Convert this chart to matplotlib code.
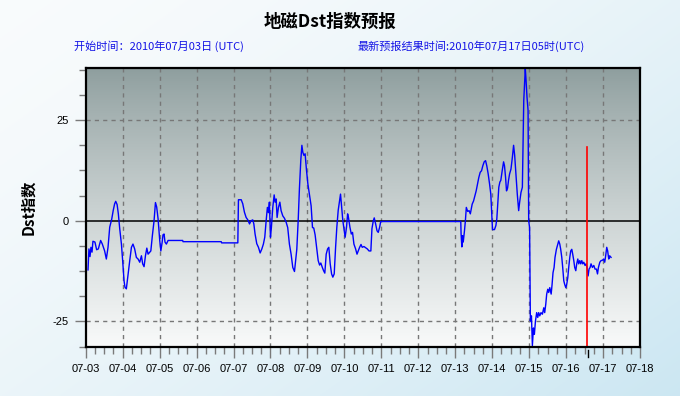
import numpy as np
import matplotlib
matplotlib.use("Agg")
import matplotlib.pyplot as plt
from matplotlib.transforms import blended_transform_factory

# ---------------- data (hours since 2010-07-03 00:00 UTC, Dst value) ----------------
hours = [1.5, 2.1, 2.8, 3.4, 4.1, 4.7, 6.0, 7.1, 8.2, 9.7, 10.8, 12.3, 13.4, 14.5, 15.6, 16.9,
         17.9, 18.8, 19.5, 20.4, 21.2, 22.1, 23.2, 24.0, 24.9, 25.5, 26.4, 27.3, 28.6, 29.7, 30.7,
         31.8, 32.9, 34.0, 35.1, 36.2, 37.0, 37.9, 38.8, 39.7, 40.5, 41.4, 42.3, 43.3, 44.4, 45.3,
         46.1, 47.0, 48.1, 48.8, 49.6, 50.2, 50.9, 51.5, 52.4, 53.5, 63.0, 63.2, 88.0, 88.3, 98.8,
         99.2, 101.0, 102.0, 103.1, 104.2, 105.3, 106.4, 107.4, 108.5, 109.2, 110.0, 111.1, 112.2,
         113.3, 114.4, 115.4, 116.3, 117.2, 118.0, 118.7, 119.3, 120.0, 120.6, 121.5, 122.4, 123.0,
         123.7, 124.3, 125.2, 126.1, 126.9, 128.0, 129.1, 130.2, 131.2, 132.3, 133.4, 134.5, 135.6,
         136.2, 137.1, 138.0, 138.8, 139.7, 140.4, 141.0, 141.7, 142.5, 143.4, 144.3, 145.3, 146.4,
         147.3, 148.1, 149.0, 149.7, 150.4, 151.0, 151.9, 152.7, 153.6, 154.5, 155.3, 156.2, 157.1,
         157.9, 158.8, 159.7, 160.5, 161.4, 162.3, 163.1, 164.0, 164.9, 165.5, 166.2, 167.0, 167.9,
         168.5, 169.4, 170.1, 170.7, 171.6, 172.5, 173.3, 174.2, 175.3, 176.2, 177.0, 177.9, 178.8,
         179.6, 180.7, 181.8, 182.9, 184.0, 185.2, 185.9, 186.8, 187.4, 188.3, 189.2, 190.0, 190.9,
         191.6, 192.6, 243.6, 243.8, 244.3, 244.7, 245.2, 246.0, 246.6, 247.2, 248.1, 249.0, 249.8,
         251.0, 251.9, 252.7, 253.6, 254.5, 255.3, 256.2, 257.1, 257.9, 258.8, 259.7, 260.5, 261.4,
         262.3, 263.1, 263.8, 264.2, 265.5, 266.4, 267.0, 267.7, 268.3, 269.0, 269.6, 270.5, 271.4,
         272.0, 272.7, 273.3, 274.0, 274.6, 275.3, 276.2, 277.1, 277.9, 278.6, 279.4, 280.3, 281.2,
         281.8, 282.7, 283.6, 284.0, 284.5, 285.1, 285.5, 286.0, 286.6, 287.3, 287.7, 288.3, 288.8,
         289.5, 290.1, 290.8, 291.4, 292.1, 292.9, 293.6, 294.2, 294.9, 295.7, 296.6, 297.5, 298.1,
         298.8, 299.4, 300.1, 300.7, 301.4, 302.3, 302.9, 303.5, 304.2, 304.8, 305.7, 306.6, 307.2,
         307.9, 308.5, 309.2, 309.8, 310.5, 311.1, 311.8, 312.4, 313.1, 313.7, 314.4, 315.0, 315.7,
         316.3, 317.0, 317.6, 318.3, 318.9, 319.6, 320.2, 320.9, 321.5, 322.2, 322.8, 323.5, 324.3,
         325.0, 325.6, 326.3, 326.9, 327.6, 328.2, 329.1, 330.0, 330.8, 331.7, 332.4, 333.0, 333.9,
         334.7, 335.6, 336.4, 337.1, 337.7, 338.4, 339.0, 339.7, 340.3, 341.2]
dst = [-12.2, -7.0, -8.9, -6.6, -7.8, -5.1, -5.3, -7.2, -7.0, -4.9, -5.8, -7.5, -9.5, -6.6, -1.6, 0.4,
       2.6, 4.2, 4.8, 4.0, 1.7, -2.0, -5.8, -9.9, -14.9, -16.5, -16.9, -14.0, -9.9, -6.6, -5.8,
       -7.0, -9.1, -9.5, -10.3, -8.7, -10.7, -11.4, -8.7, -6.8, -8.3, -7.9, -7.5, -3.7, 0.0, 4.5,
       3.4, 0.5, -5.0, -7.5, -5.5, -3.5, -3.3, -5.3, -5.8, -4.9, -4.9, -5.2, -5.2, -5.5, -5.5,
       5.2, 5.2, 4.2, 2.1, 0.8, 0.2, -0.8, 0.0, 0.2, -0.8, -3.3, -5.7, -6.6,
       -8.0, -7.0, -5.8, -4.1, 0.0, 3.3, 2.0, 4.6, -4.1, -1.7, 3.3, 6.4, 4.6,
       5.4, 0.8, 3.3, 4.6, 2.5, 1.2, 0.6, -0.4, -1.7, -5.8, -8.3, -11.6, -12.6,
       -10.4, -7.1, 0.0, 7.9, 15.0, 18.7, 17.0, 16.2, 16.6, 12.5, 9.1, 6.6, 3.7,
       -1.7, -1.8, -3.5, -5.8, -8.3, -9.9, -11.0, -10.5, -11.5, -12.4, -13.0, -8.3, -7.0,
       -6.6, -10.7, -13.2, -14.0, -13.2, -6.6, -1.6, 2.6, 5.1, 6.6, 3.4, 0.0, -2.4,
       -4.1, -1.6, 1.7, 0.7, -1.6, -3.3, -2.9, -5.8, -7.0, -8.3, -7.5, -6.6, -5.9,
       -6.6, -6.4, -6.7, -7.0, -7.5, -7.5, -2.0, 0.0, 0.7, -0.8, -2.5, -2.9, -1.6,
       -0.2, -0.2, -0.2, -3.3, -6.5, -3.7, -5.3, -2.5, 0.0, 3.3, 2.3, 2.5, 1.7,
       4.1, 4.9, 6.1, 7.4, 9.1, 10.7, 12.0, 12.4, 13.6, 14.6, 14.9, 13.6, 11.6,
       9.1, 6.6, 0.8, -2.2, -2.2, -1.2, 0.4, 4.9, 8.3, 9.6, 10.0, 12.4, 14.6,
       13.6, 10.7, 7.4, 8.1, 10.0, 11.6, 12.8, 15.7, 18.7, 16.2, 11.6, 6.6, 2.5,
       4.5, 7.0, 8.3, 18.2, 29.8, 34.8, 37.7, 34.8, 30.7, 27.4, 0.0, -1.7, -24.9,
       -23.6, -31.0, -26.6, -28.2, -24.9, -22.8, -24.0, -22.8, -23.6, -22.8, -23.2, -21.6, -22.8,
       -20.7, -18.2, -17.0, -17.8, -16.6, -18.2, -15.8, -12.9, -11.6, -9.1, -7.1, -5.8, -5.0,
       -5.8, -7.1, -9.1, -11.6, -14.9, -15.8, -16.6, -15.8, -14.1, -11.6, -9.1, -7.5, -7.1,
       -8.3, -9.9, -11.6, -12.4, -10.7, -9.5, -10.7, -9.9, -10.7, -9.9, -10.7, -10.3, -11.1,
       -10.7, -11.6, -13.7, -12.0, -11.6, -10.7, -11.6, -11.1, -12.0, -12.0, -13.2, -11.6, -10.3,
       -9.9, -9.8, -9.5, -10.3, -8.7, -6.6, -7.5, -9.5, -8.7, -9.1]

day_labels = ['07-03', '07-04', '07-05', '07-06', '07-07', '07-08', '07-09', '07-10',
              '07-11', '07-12', '07-13', '07-14', '07-15', '07-16', '07-17', '07-18']
y_ticks = [-25, 0, 25]
now_hour = 325.6          # red "current time" marker
now_top = 18.2

title = '地磁Dst指数预报'
sub_left = '开始时间：2010年07月03日 (UTC)'
sub_right = '最新预报结果时间:2010年07月17日05时(UTC)'
ylabel = 'Dst指数'

CJK = ['Noto Sans CJK SC', 'DejaVu Sans']
LAT = ['Liberation Sans', 'DejaVu Sans']

# ---------------- figure ----------------
W, H = 680, 396
fig = plt.figure(figsize=(W / 100, H / 100), dpi=100)

# sky-like background
bg = fig.add_axes([0, 0, 1, 1], zorder=-10)
bg.set_axis_off()
yy, xx = np.mgrid[0:1:200j, 0:1:300j]
t = np.clip(0.55 * xx + 0.45 * yy, 0, 1) ** 1.5
c0 = np.array([0.975, 0.985, 0.99])
c1 = np.array([0.80, 0.905, 0.95])
img = c0[None, None, :] * (1 - t[..., None]) + c1[None, None, :] * t[..., None]
bg.imshow(img, extent=[0, 1, 0, 1], aspect='auto', origin='upper')
bg.set_xlim(0, 1)
bg.set_ylim(0, 1)

L, R, T, B = 85.7, 640.0, 67.5, 347.3
ax = fig.add_axes([L / W, 1 - B / H, (R - L) / W, (B - T) / H])
ax.patch.set_alpha(0)

# plot-area gradient
g = np.linspace(0, 1, 256)[:, None]
top_c = np.array([0.553, 0.616, 0.616])
bot_c = np.array([0.975, 0.98, 0.98])
grad = top_c[None, None, :] * (1 - g[..., None] ** 0.85) + bot_c[None, None, :] * (g[..., None] ** 0.85)
grad = np.repeat(grad, 2, axis=1)
ax.imshow(grad, extent=[0, 1, 0, 1], transform=ax.transAxes, aspect='auto',
          origin='upper', zorder=0)

x_days = np.array(hours) / 24.0
ax.plot(x_days, dst, color='#0000ff', lw=1.0, zorder=4)

# grid
for d in range(1, 15):
    ax.axvline(d, color='#777777', lw=1.0, ls=(0, (3, 3)), zorder=2)
for v in (25, -25):
    ax.axhline(v, color='#777777', lw=1.0, ls=(0, (3, 3)), zorder=2)
ax.axhline(0, color='black', lw=1.1, zorder=3)

# red marker
ax.plot([now_hour / 24.0, now_hour / 24.0], [-40, now_top], color='#ff0000', lw=1.2, zorder=5)
trans = blended_transform_factory(ax.transData, ax.transAxes)
ax.plot([now_hour / 24.0 + 0.03] * 2, [-0.010, -0.033], color='black', lw=1.0,
        transform=trans, clip_on=False)

ax.set_xlim(0, 15)
ax.set_ylim(-31.4, 38.0)

ax.set_xticks(range(16))
ax.set_xticklabels(day_labels, family=LAT, fontsize=8)
ax.set_xticks(np.arange(0, 15.01, 0.25), minor=True)
ax.set_yticks(y_ticks)
ax.set_yticklabels([str(v) for v in y_ticks], family=LAT, fontsize=8)
ax.set_yticks(np.arange(-31.25, 38.1, 6.25), minor=True)

ax.tick_params(axis='x', which='major', length=8, width=1, color='#7a7a7a', pad=4)
ax.tick_params(axis='x', which='minor', length=5, width=1, color='#7a7a7a')
ax.tick_params(axis='y', which='major', length=8, width=1, color='#7a7a7a', pad=4)
ax.tick_params(axis='y', which='minor', length=5, width=1, color='#7a7a7a')

for s in ax.spines.values():
    s.set_color('black')
    s.set_linewidth(1.6)
    s.set_zorder(6)

ax.set_ylabel(ylabel, family=CJK, fontsize=11, fontweight='bold')
ax.yaxis.set_label_coords((36.0 - L) / (R - L), 0.5)

fig.text(330 / W, 1 - 22 / H, title, family=CJK, fontsize=12.5, fontweight='bold',
         ha='center', va='center', color='black')
fig.text(74 / W, 1 - 46 / H, sub_left, family=CJK, fontsize=8, ha='left', va='center',
         color='#1414e6')
fig.text(358 / W, 1 - 46 / H, sub_right, family=CJK, fontsize=8, ha='left', va='center',
         color='#1414e6')

fig.savefig('out.png', dpi=100)
